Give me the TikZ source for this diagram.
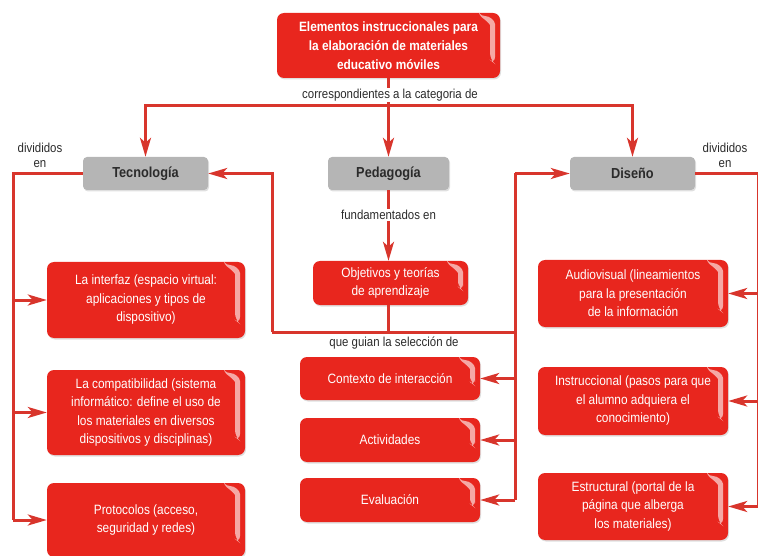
\documentclass[tikz,border=0pt]{standalone}
\usepackage{fontspec}
\setmainfont{Liberation Sans}[FakeStretch=0.88]
\usetikzlibrary{arrows.meta,calc,shadows}
\definecolor{boxred}{HTML}{E8261E}
\definecolor{linered}{HTML}{D8352C}
\definecolor{boxgray}{HTML}{B5B5B5}
\definecolor{txtgray}{HTML}{2B2B2B}
\tikzset{
  gloss/.style={path picture={
    \fill[white,opacity=0.6]
      ($(path picture bounding box.north east)+(-22pt,-3pt)$)
      .. controls +(12pt,0pt) and +(0pt,10pt) .. ($(path picture bounding box.north east)+(-5pt,-18pt)$)
      -- ($(path picture bounding box.south east)+(-5pt,14pt)$)
      -- ($(path picture bounding box.south east)+(-10pt,18pt)$)
      -- ($(path picture bounding box.north east)+(-10pt,-19pt)$)
      .. controls +(0pt,8pt) and +(6pt,-3pt) .. cycle;
  }},
  redbox/.style={draw=none,fill=boxred,rounded corners=7pt,text=white,align=center,
    font=\fontsize{13.5}{18.5}\selectfont,inner sep=2pt,gloss,
    drop shadow={opacity=0.25,shadow xshift=1pt,shadow yshift=-1.5pt}},
  graybox/.style={draw=none,fill=boxgray,rounded corners=4pt,text=txtgray,
    font=\fontsize{14.5}{16}\selectfont\bfseries,minimum width=125pt,minimum height=33pt,
    drop shadow={opacity=0.25,shadow xshift=1pt,shadow yshift=-1.5pt}},
  lbl/.style={text=txtgray,font=\fontsize{13}{15}\selectfont,align=center,inner sep=1pt},
  conn/.style={draw=linered,line width=3pt},
  arr/.style={conn,-{Stealth[length=19pt,width=11pt,inset=5pt]}},
}
\begin{document}
\begin{tikzpicture}[x=1pt,y=-1pt]
\useasboundingbox (0,0) rectangle (758,556);
% main nodes
\node[redbox,font=\fontsize{13.5}{19}\selectfont\bfseries,minimum width=223pt,minimum height=65pt] (top) at (388.5,45.5)
  {Elementos instruccionales para\\la elaboración de materiales\\educativo móviles};
\node[graybox] (tec) at (145.5,173.5) {Tecnología};
\node[graybox,minimum width=121pt] (ped) at (388.5,173.5) {Pedagogía};
\node[graybox] (dis) at (632.5,173.5) {Diseño};
% left column
\node[redbox,minimum width=198pt,minimum height=76pt] (inter) at (146,300)
  {La interfaz (espacio virtual:\\aplicaciones y tipos de\\dispositivo)};
\node[redbox,minimum width=198pt,minimum height=85pt] (compat) at (146,412.5)
  {La compatibilidad (sistema\\informático: define el uso de\\los materiales en diversos\\dispositivos y disciplinas)};
\node[redbox,minimum width=198pt,minimum height=74pt] (proto) at (146,520)
  {Protocolos (acceso,\\seguridad y redes)};
% middle column
\node[redbox,minimum width=155pt,minimum height=44pt] (obj) at (390.5,283)
  {Objetivos y teorías\\de aprendizaje};
\node[redbox,minimum width=180pt,minimum height=43pt] (ctx) at (390,378.5) {Contexto de interacción};
\node[redbox,minimum width=180pt,minimum height=44pt] (act) at (390,440) {Actividades};
\node[redbox,minimum width=180pt,minimum height=44pt] (eva) at (390,500) {Evaluación};
% right column
\node[redbox,minimum width=190pt,minimum height=67pt] (audio) at (633,293.5)
  {Audiovisual (lineamientos\\para la presentación\\de la información};
\node[redbox,minimum width=190pt,minimum height=68pt] (instr) at (633,401)
  {Instruccional (pasos para que\\el alumno adquiera el\\conocimiento)};
\node[redbox,minimum width=190pt,minimum height=67pt] (estr) at (633,506.5)
  {Estructural (portal de la\\página que alberga\\los materiales)};
% top connectors
\coordinate (j1) at (388.5,106);
\draw[conn] (top.south) -- (j1);
\draw[arr] (j1) -| (tec.north);
\draw[arr] (j1) -| (dis.north);
\draw[arr] (j1) -- (ped.north);
\node[lbl,fill=white] (lcat) at (390,95) {correspondientes a la categoria de};
% left branch
\coordinate (L) at (13,173.5);
\draw[conn] (tec.west) -- (L) -- (L|-proto.west);
\draw[arr] (L|-inter.west) -- (inter.west);
\draw[arr] (L|-compat.west) -- (compat.west);
\draw[arr] (L|-proto.west) -- (proto.west);
\node[lbl,fill=white] (ldivl) at (40,155) {divididos\\en};
% right branch
\coordinate (R) at (758.5,173.5);
\draw[conn] (dis.east) -- (R) -- (R|-estr.east);
\draw[arr] (R|-audio.east) -- (audio.east);
\draw[arr] (R|-instr.east) -- (instr.east);
\draw[arr] (R|-estr.east) -- (estr.east);
\node[lbl,fill=white] (ldivr) at (725,155) {divididos\\en};
% pedagogy branch
\draw[arr] (ped.south) -- (ped.south|-obj.north);
\node[lbl,fill=white] (lfund) at (388.5,215) {fundamentados en};
\coordinate (H1) at (272,332);
\coordinate (H2) at (515,332);
\coordinate (T1) at (272,173.5);
\coordinate (D1) at (515,173.5);
\draw[arr] (H1) -- (T1) -- (tec.east);
\draw[conn] (H1) -- (H2);
\draw[conn] (ped.south|-obj.south) -- (ped.south|-H1);
\draw[conn] (D1) -- (D1|-eva.east);
\draw[arr] (D1) -- (dis.west);
\draw[arr] (D1|-ctx.east) -- (ctx.east);
\draw[arr] (D1|-act.east) -- (act.east);
\draw[arr] (D1|-eva.east) -- (eva.east);
\node[lbl] (lguia) at (394,343) {que guian la selección de};
\end{tikzpicture}
\end{document}
